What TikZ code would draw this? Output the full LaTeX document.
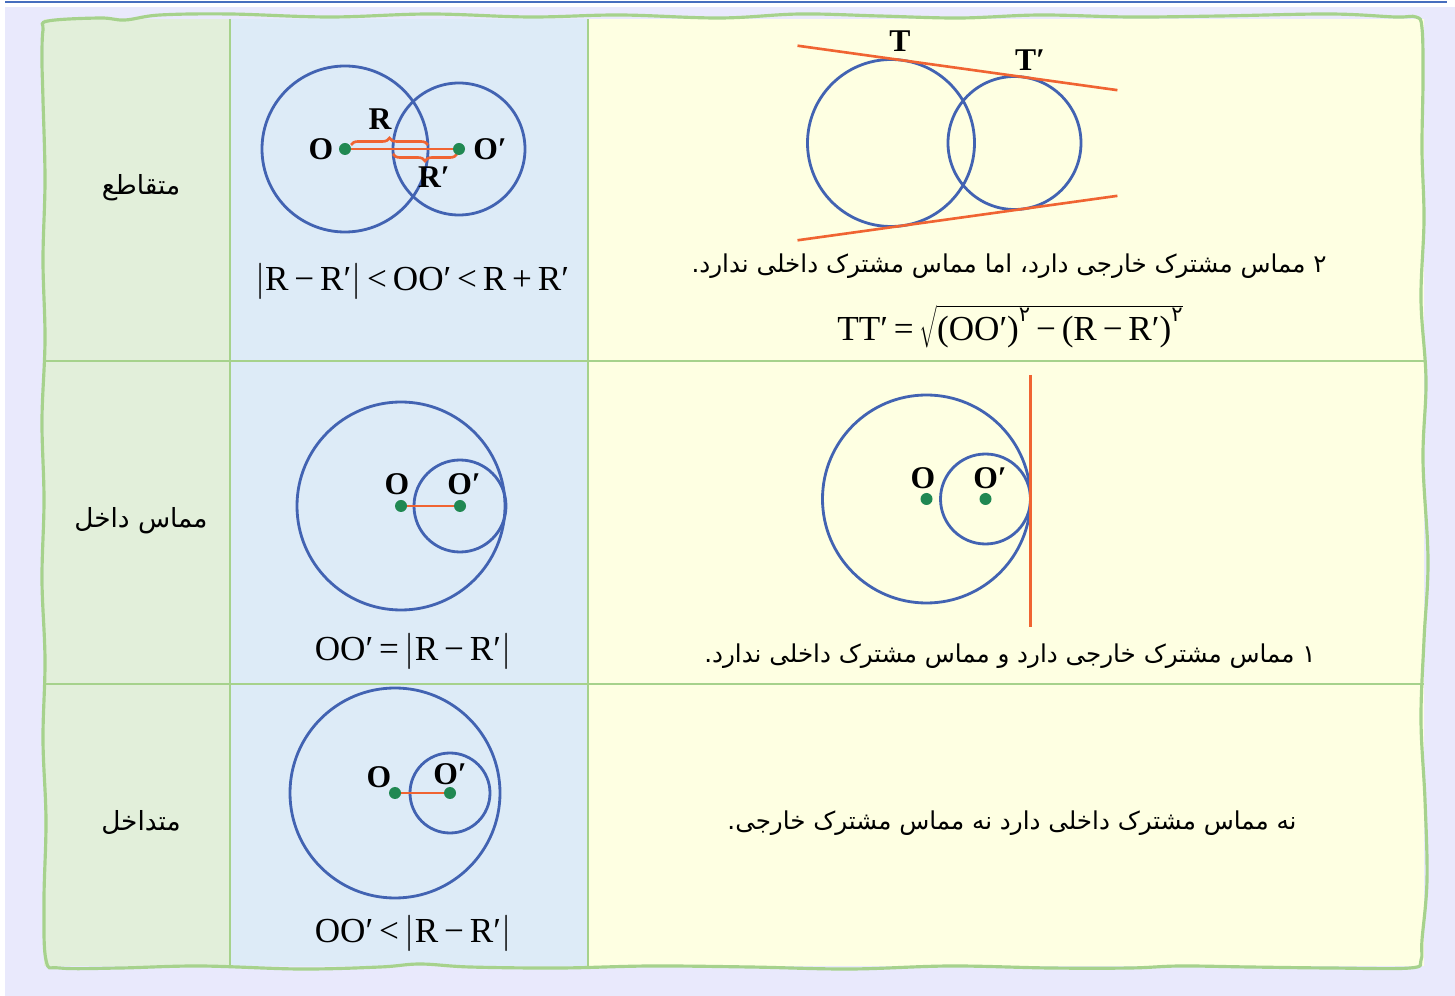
\documentclass[tikz,border=0pt]{standalone}
\usepackage{fontspec}
\usetikzlibrary{calc,decorations.pathreplacing}
\TeXXeTstate=1
\newfontfamily\fa[Script=Arabic]{DejaVu Sans}
\newfontfamily\tms{Liberation Serif}
\definecolor{circblue}{RGB}{66,99,178}
\definecolor{tangorange}{RGB}{240,100,50}
\definecolor{dotgreen}{RGB}{32,136,82}
\definecolor{bordergreen}{RGB}{166,210,140}
\definecolor{colA}{RGB}{226,239,218}
\definecolor{colB}{RGB}{221,235,247}
\definecolor{colC}{RGB}{254,255,226}
\definecolor{pagebg}{RGB}{233,233,252}
\definecolor{topblue}{RGB}{70,110,190}
\newcommand\sqr{\raisebox{0.55em}{\fontsize{12}{12}\selectfont\fa ۲}}

\begin{document}
\begin{tikzpicture}[x=0.02cm, y=-0.02cm,
  circ/.style={circblue, line width=1.6pt},
  seg/.style={tangorange, line width=1.5pt},
  dot/.style={dotgreen},
  lab/.style={font={\tms\fontsize{18}{20}\selectfont\bfseries}, inner sep=0pt},
  frm/.style={font={\tms\fontsize{20}{24}\selectfont}, inner sep=0pt},
  fatext/.style={font={\fa\fontsize{14}{18}\selectfont}, inner sep=0pt},
  gridline/.style={bordergreen, line width=1.2pt}]
% page
\useasboundingbox (0,0) rectangle (1455,996);
\fill[white] (0,0) rectangle (1455,996);
\fill[pagebg] (5,7) rectangle (1455,996);
\draw[topblue, line width=1.6pt] (5,2) -- (1447,2);

% columns and rows
\fill[colA] (44,19) rectangle (230,966);
\fill[colB] (230,19) rectangle (588,966);
\fill[colC] (588,19) rectangle (1424,966);
\draw[gridline] (230,19) -- (230,966);
\draw[gridline] (588,19) -- (588,966);
\draw[gridline] (44,361) -- (1424,361);
\draw[gridline] (44,684) -- (1424,684);
% wavy frame
\draw[bordergreen, line width=1.8pt] plot[smooth cycle, tension=0.6] coordinates {
  (48,21) (100,18) (125,20) (160,15) (230,14) (330,17) (430,14) (530,17)
  (620,15) (720,18) (800,14) (880,16) (960,18) (1040,15) (1130,17) (1220,16)
  (1330,14) (1395,17) (1416,17) (1422,28) (1423,80) (1422,150) (1424,220)
  (1421,300) (1426,380) (1423,460) (1428,560) (1424,640) (1421,720) (1425,800)
  (1427,880) (1422,940) (1421,960) (1410,968) (1330,968) (1250,967) (1180,966)
  (1130,968) (1050,968) (950,966) (850,969) (750,967) (650,966) (560,968)
  (470,967) (420,964) (380,967) (300,969) (200,966) (120,968) (60,968) (46,960)
  (44,900) (46,820) (43,740) (45,660) (42,580) (44,500) (42,420) (45,340)
  (43,260) (45,180) (43,100) (42,60) (43,30)};

% row names
\node[fatext, font={\fa\fontsize{15}{18}\selectfont}] (n1) at (141,188) {\beginR متقاطع\endR};
\node[fatext, font={\fa\fontsize{15}{18}\selectfont}] (n2) at (141,521) {\beginR مماس داخل\endR};
\node[fatext, font={\fa\fontsize{15}{18}\selectfont}] (n3) at (141,822) {\beginR متداخل\endR};

% intersecting
\def\rA{83}
\def\rB{66}
\coordinate (O1) at (345,149);
\coordinate (P1) at (459,149);
\draw[circ] (O1) circle (\rA);
\draw[circ] (P1) circle (\rB);
\draw[seg] (O1) -- (P1);
\draw[seg, decorate, decoration={brace, amplitude=4pt}] ($(O1)+(6,-4)$) -- ($(O1)+(\rA,-4)$);
\draw[seg, decorate, decoration={brace, amplitude=4pt}] ($(P1)+(-2,5)$) -- ($(P1)+(-\rB,5)$);
\fill[dot] (O1) circle (6);
\fill[dot] (P1) circle (6);
\node[lab] (lO1) at (321,149) {O};
\node[lab] (lP1) at (490,149) {O′};
\node[lab] (lR) at (380,119) {R};
\node[lab] (lRp) at (434,177) {R′};
\node[frm] (f1) at (412,281) {$\left|\hbox{R\,−\,R′}\right|$\,<\,OO′\,<\,R\,+\,R′};

% internally tangent
\coordinate (O2) at (401,506);
\coordinate (P2) at (460,506);
\draw[circ] (O2) circle (104);
\draw[circ] (P2) circle (46);
\draw[seg] (O2) -- (P2);
\fill[dot] (O2) circle (6);
\fill[dot] (P2) circle (6);
\node[lab] (lO2) at (397,484) {O};
\node[lab] (lP2) at (464,484) {O′};
\node[frm] (f2) at (413,651) {OO′\,=\,$\left|\hbox{R\,−\,R′}\right|$};

% nested
\coordinate (O3) at (395,793);
\coordinate (P3) at (450,793);
\draw[circ] (O3) circle (105);
\draw[circ] (P3) circle (40);
\draw[seg] (O3) -- (P3);
\fill[dot] (O3) circle (6);
\fill[dot] (P3) circle (6);
\node[lab] (lO3) at (379,777) {O};
\node[lab] (lP3) at (450,774) {O′};
\node[frm] (f3) at (413,933) {OO′\,<\,$\left|\hbox{R\,−\,R′}\right|$};

% common tangents
\def\ra{83.5}
\def\rb{66.5}
\coordinate (C1) at (891,143);
\coordinate (C2) at (1014.5,143);
\pgfmathsetmacro{\ang}{asin((\ra-\rb)/123.5)}
\draw[circ] (C1) circle (\ra);
\draw[circ] (C2) circle (\rb);
\coordinate (T1) at ($(C1)+(\ang-90:\ra)$);
\coordinate (B1) at ($(C1)+(90-\ang:\ra)$);
\coordinate (Ta) at ($(T1)+(\ang+180:106)$);
\coordinate (Tb) at ($(T1)+(\ang:217)$);
\coordinate (Ba) at ($(B1)+(180-\ang:106)$);
\coordinate (Bb) at ($(B1)+(-\ang:217)$);
\draw[seg] (Ta) -- (Tb);
\draw[seg] (Ba) -- (Bb);
\node[lab] (lT) at (900,41) {T};
\node[lab] (lTp) at (1030,60) {T′};
\node[fatext] (t1) at (1009,266) {\beginR ۲ مماس مشترک خارجی دارد، اما مماس مشترک داخلی ندارد.\endR};
\node[frm] (f4) at (1010,327) {TT′\,=\,$\sqrt{\hbox{(OO′)\sqr\,−\,(R\,−\,R′)\sqr}}$};

% one common tangent
\coordinate (C3) at (926.5,499);
\coordinate (C4) at (985.5,499);
\draw[circ] (C3) circle (104);
\draw[circ] (C4) circle (45);
\coordinate (K) at ($(C3)+(104,0)$);
\coordinate (Ka) at ($(K)+(0,-124)$);
\coordinate (Kb) at ($(K)+(0,128)$);
\draw[seg] (Ka) -- (Kb);
\fill[dot] (C3) circle (6);
\fill[dot] (C4) circle (6);
\node[lab] (lO4) at (923,478) {O};
\node[lab] (lP4) at (990,478) {O′};
\node[fatext] (t2) at (1010,656) {\beginR ۱ مماس مشترک خارجی دارد و مماس مشترک داخلی ندارد.\endR};

% no common tangent
\node[fatext] (t3) at (1012,823) {\beginR نه مماس مشترک داخلی دارد نه مماس مشترک خارجی.\endR};
\end{tikzpicture}
\end{document}
